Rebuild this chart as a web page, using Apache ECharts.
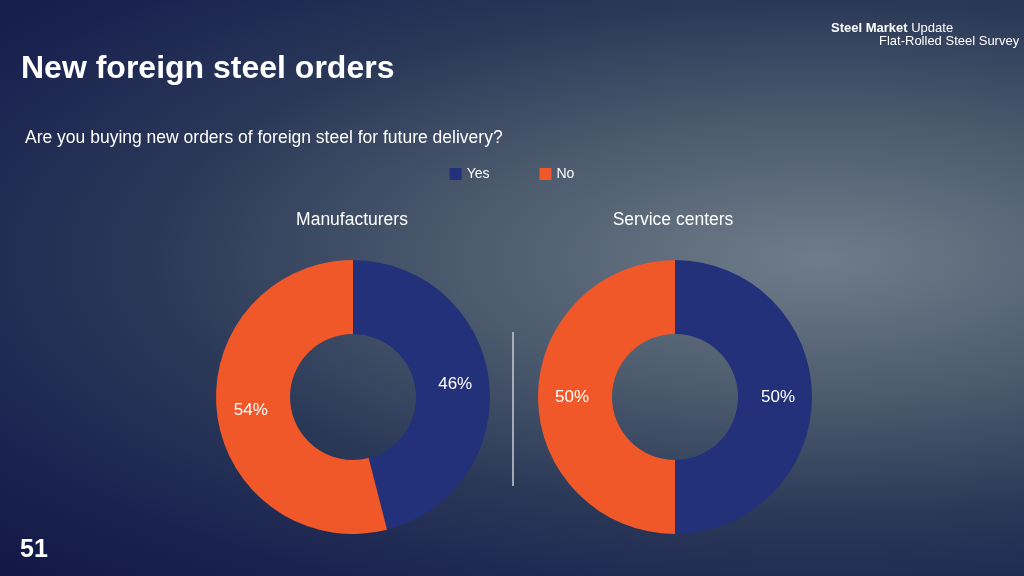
<!DOCTYPE html>
<html><head><meta charset="utf-8">
<script src="https://cdn.jsdelivr.net/npm/echarts@6/dist/echarts.min.js"></script>
<style>
html,body{margin:0;padding:0;width:1024px;height:576px;overflow:hidden;
background:radial-gradient(ellipse at 80% 45%, #6f7c8a 0%, #4d5c6e 30%, #2a3858 58%, #1a2350 82%, #121845 100%);}
#chart{width:1024px;height:576px;}
</style></head><body>
<div id="chart"></div>
<script>
var answers = ['Yes', 'No'];
var groups = ['Manufacturers', 'Service centers'];
var manufacturers = [46, 54];
var serviceCenters = [50, 50];
var colors = ['#23307a', '#f0582a'];
var font = 'Helvetica, Arial, "Liberation Sans", sans-serif';

var myChart = echarts.init(document.getElementById('chart'));

function pie(name, values, cx) {
    return {
        type: 'pie', name: name,
        center: [cx, 397], radius: [63, 137],
        startAngle: 90, clockwise: true,
        label: {
            position: 'inside', color: '#fff', fontSize: 17, fontFamily: font,
            formatter: '{c}%'
        },
        labelLine: {show: false},
        itemStyle: {borderWidth: 0},
        emphasis: {disabled: true},
        data: answers.map(function (a, i) {
            return {name: a, value: values[i], itemStyle: {color: colors[i]}};
        })
    };
}

option = {
    animation: false,
    backgroundColor: 'transparent',
    title: [
        {text: 'New foreign steel orders', left: 21, top: 53, padding: 0,
            textStyle: {color: '#fff', fontSize: 32, fontWeight: 'bold', fontFamily: font}},
        {text: 'Are you buying new orders of foreign steel for future delivery?', left: 25, top: 129, padding: 0,
            textStyle: {color: '#fff', fontSize: 17.5, fontWeight: 'normal', fontFamily: font}},
        {text: groups[0], left: 352, top: 211, textAlign: 'center', padding: 0,
            textStyle: {color: '#fff', fontSize: 17.5, fontWeight: 'normal', fontFamily: font}},
        {text: groups[1], left: 673, top: 211, textAlign: 'center', padding: 0,
            textStyle: {color: '#fff', fontSize: 17.5, fontWeight: 'normal', fontFamily: font}},
        {text: '51', left: 20, top: 538, padding: 0,
            textStyle: {color: '#fff', fontSize: 25, fontWeight: 'bold', fontFamily: font}}
    ],
    legend: {
        data: answers, top: 162, left: 'center', itemGap: 50,
        icon: 'rect', itemWidth: 12, itemHeight: 12,
        textStyle: {color: '#fff', fontSize: 14, fontFamily: font}
    },
    graphic: [
        {type: 'line', shape: {x1: 513, y1: 332, x2: 513, y2: 486},
            style: {stroke: '#c8ccd4', lineWidth: 1.5}},
        {type: 'text', left: 831, top: 22,
            style: {text: '{b|Steel Market} Update', fill: '#fff', font: '13px ' + font,
                rich: {b: {fontWeight: 'bold', fontSize: 13, fontFamily: font, fill: '#fff'}}}},
        {type: 'text', left: 879, top: 35,
            style: {text: 'Flat-Rolled Steel Survey', fill: '#fff', font: '13px ' + font}}
    ],
    series: [pie(groups[0], manufacturers, 353), pie(groups[1], serviceCenters, 675)]
};
myChart.setOption(option);
</script>
</body></html>
